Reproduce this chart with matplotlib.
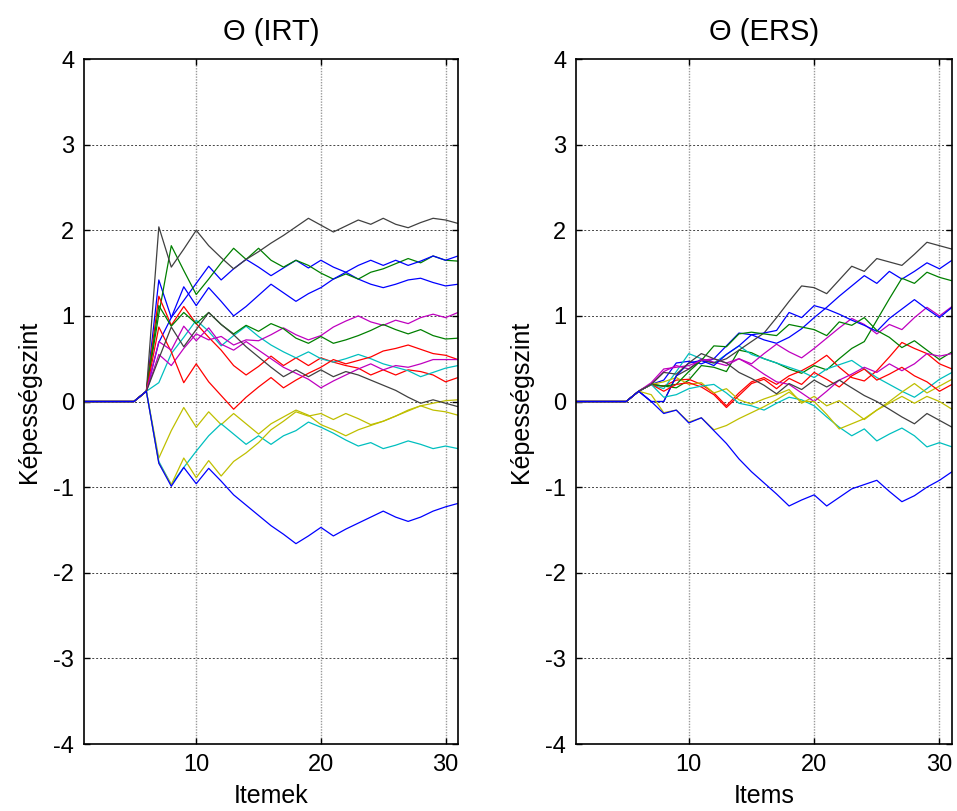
import numpy as np
import matplotlib
matplotlib.use("Agg")
import matplotlib.pyplot as plt

plt.rcParams["font.family"] = ["Liberation Sans", "DejaVu Sans"]
plt.rcParams["axes.unicode_minus"] = False

items = np.arange(1, 32)

# old MATLAB colour order: b g r c m y k
line_colors = [(0, 0, 1), (0, 0.5, 0), (1, 0, 0), (0, 0.75, 0.75),
               (0.75, 0, 0.75), (0.75, 0.75, 0), (0.25, 0.25, 0.25)]

# ---- Theta (IRT) estimates, one list per examinee ----
irt_blue1 = [0, 0, 0, 0, 0, 0.12, 1.42, 0.98, 1.18, 1.38, 1.58, 1.42, 1.55, 1.66, 1.57, 1.47, 1.56, 1.65, 1.56, 1.65, 1.57, 1.51, 1.43, 1.37, 1.33, 1.37, 1.42, 1.44, 1.39, 1.35, 1.37]
irt_green1 = [0, 0, 0, 0, 0, 0.12, 1.02, 1.82, 1.53, 1.25, 1.43, 1.62, 1.79, 1.66, 1.79, 1.65, 1.57, 1.65, 1.59, 1.5, 1.43, 1.49, 1.43, 1.51, 1.55, 1.61, 1.67, 1.62, 1.7, 1.65, 1.64]
irt_red1 = [0, 0, 0, 0, 0, 0.12, 1.23, 0.89, 1.11, 0.91, 0.75, 0.6, 0.42, 0.31, 0.41, 0.53, 0.42, 0.51, 0.42, 0.51, 0.46, 0.42, 0.39, 0.31, 0.37, 0.31, 0.37, 0.35, 0.31, 0.23, 0.28]
irt_cyan1 = [0, 0, 0, 0, 0, 0.12, 0.22, 0.56, 0.75, 0.95, 0.82, 0.65, 0.77, 0.88, 0.76, 0.66, 0.58, 0.51, 0.58, 0.5, 0.46, 0.5, 0.55, 0.5, 0.44, 0.4, 0.36, 0.29, 0.34, 0.39, 0.42]
irt_magenta1 = [0, 0, 0, 0, 0, 0.12, 0.55, 0.42, 0.62, 0.79, 0.72, 0.76, 0.66, 0.72, 0.71, 0.78, 0.86, 0.78, 0.72, 0.77, 0.87, 0.94, 1.0, 0.93, 0.89, 0.95, 0.91, 0.98, 1.02, 0.98, 1.04]
irt_yellow1 = [0, 0, 0, 0, 0, 0.12, -0.66, -0.34, -0.07, -0.3, -0.12, -0.27, -0.14, -0.26, -0.38, -0.26, -0.18, -0.1, -0.16, -0.27, -0.33, -0.4, -0.33, -0.28, -0.23, -0.17, -0.1, -0.05, -0.02, 0.01, 0.02]
irt_gray1 = [0, 0, 0, 0, 0, 0.12, 2.04, 1.57, 1.78, 2.0, 1.82, 1.68, 1.55, 1.66, 1.75, 1.85, 1.94, 2.04, 2.14, 2.06, 1.98, 2.05, 2.12, 2.07, 2.14, 2.07, 2.03, 2.09, 2.14, 2.12, 2.08]
irt_blue2 = [0, 0, 0, 0, 0, 0.12, 0.69, 0.98, 1.34, 1.12, 1.33, 1.17, 1.0, 1.11, 1.24, 1.37, 1.27, 1.17, 1.26, 1.33, 1.43, 1.51, 1.59, 1.65, 1.59, 1.65, 1.59, 1.64, 1.7, 1.65, 1.7]
irt_green2 = [0, 0, 0, 0, 0, 0.12, 1.12, 0.88, 1.04, 0.91, 1.04, 0.9, 0.79, 0.89, 0.82, 0.91, 0.85, 0.74, 0.68, 0.76, 0.68, 0.72, 0.77, 0.83, 0.9, 0.84, 0.79, 0.84, 0.77, 0.73, 0.74]
irt_red2 = [0, 0, 0, 0, 0, 0.12, 0.87, 0.58, 0.22, 0.44, 0.23, 0.07, -0.09, 0.05, 0.17, 0.28, 0.16, 0.25, 0.33, 0.4, 0.49, 0.44, 0.48, 0.52, 0.59, 0.62, 0.66, 0.61, 0.56, 0.54, 0.49]
irt_cyan2 = [0, 0, 0, 0, 0, 0.12, -0.7, -0.97, -0.77, -0.58, -0.4, -0.26, -0.38, -0.5, -0.4, -0.5, -0.4, -0.34, -0.24, -0.3, -0.37, -0.45, -0.52, -0.48, -0.55, -0.51, -0.46, -0.5, -0.55, -0.52, -0.55]
irt_magenta2 = [0, 0, 0, 0, 0, 0.12, 0.7, 0.6, 0.88, 0.71, 0.86, 0.67, 0.6, 0.7, 0.6, 0.5, 0.4, 0.33, 0.26, 0.16, 0.24, 0.31, 0.38, 0.44, 0.37, 0.42, 0.4, 0.44, 0.49, 0.49, 0.49]
irt_yellow2 = [0, 0, 0, 0, 0, 0.12, -0.72, -0.97, -0.66, -0.89, -0.69, -0.87, -0.7, -0.6, -0.48, -0.33, -0.23, -0.12, -0.17, -0.14, -0.21, -0.14, -0.2, -0.27, -0.23, -0.17, -0.11, -0.05, -0.1, -0.12, -0.16]
irt_gray2 = [0, 0, 0, 0, 0, 0.12, 0.5, 0.87, 0.64, 0.84, 1.04, 0.9, 0.78, 0.64, 0.52, 0.4, 0.29, 0.37, 0.29, 0.37, 0.29, 0.35, 0.31, 0.25, 0.19, 0.13, 0.05, -0.02, 0.02, -0.02, -0.06]
irt_blue3 = [0, 0, 0, 0, 0, 0.12, -0.72, -0.99, -0.77, -0.96, -0.78, -0.93, -1.09, -1.21, -1.33, -1.45, -1.55, -1.66, -1.57, -1.47, -1.57, -1.49, -1.42, -1.35, -1.28, -1.35, -1.4, -1.35, -1.28, -1.23, -1.19]

# ---- Theta (ERS) estimates ----
ers_blue1 = [0, 0, 0, 0, 0, 0.12, 0.2, 0.25, 0.45, 0.47, 0.44, 0.5, 0.65, 0.8, 0.78, 0.72, 0.68, 0.75, 0.85, 0.98, 1.1, 1.23, 1.35, 1.47, 1.38, 1.52, 1.43, 1.52, 1.62, 1.55, 1.65]
ers_green1 = [0, 0, 0, 0, 0, 0.12, 0.2, 0.18, 0.16, 0.25, 0.42, 0.4, 0.35, 0.6, 0.57, 0.5, 0.45, 0.38, 0.33, 0.42, 0.37, 0.5, 0.62, 0.7, 0.95, 1.2, 1.44, 1.38, 1.51, 1.45, 1.41]
ers_red1 = [0, 0, 0, 0, 0, 0.12, 0.2, 0.18, 0.25, 0.26, 0.2, 0.1, -0.05, 0.1, 0.23, 0.28, 0.2, 0.3, 0.36, 0.44, 0.54, 0.4, 0.28, 0.24, 0.36, 0.52, 0.69, 0.62, 0.56, 0.44, 0.38]
ers_cyan1 = [0, 0, 0, 0, 0, 0.12, 0.2, 0.15, 0.35, 0.56, 0.5, 0.45, 0.55, 0.65, 0.55, 0.5, 0.45, 0.4, 0.35, 0.28, 0.38, 0.43, 0.48, 0.38, 0.28, 0.2, 0.12, 0.05, 0.15, 0.26, 0.34]
ers_magenta1 = [0, 0, 0, 0, 0, 0.12, 0.2, 0.35, 0.42, 0.38, 0.5, 0.46, 0.42, 0.5, 0.44, 0.56, 0.67, 0.58, 0.51, 0.62, 0.74, 0.86, 0.97, 0.9, 0.79, 0.9, 0.84, 0.98, 1.1, 1.0, 1.11]
ers_yellow1 = [0, 0, 0, 0, 0, 0.12, 0.2, 0.23, 0.28, 0.2, 0.22, 0.1, 0.15, 0.02, -0.03, 0.03, 0.08, 0.14, -0.02, 0.06, -0.05, 0.01, -0.1, -0.21, -0.1, 0.0, 0.11, 0.21, 0.1, 0.18, 0.26]
ers_gray1 = [0, 0, 0, 0, 0, 0.12, 0.0, 0.0, 0.3, 0.38, 0.48, 0.45, 0.5, 0.6, 0.7, 0.8, 0.98, 1.17, 1.35, 1.33, 1.26, 1.42, 1.58, 1.52, 1.67, 1.63, 1.59, 1.72, 1.86, 1.82, 1.78]
ers_blue2 = [0, 0, 0, 0, 0, 0.12, 0.0, 0.0, 0.3, 0.45, 0.48, 0.42, 0.55, 0.65, 0.78, 0.8, 0.83, 1.04, 0.98, 1.12, 1.08, 1.02, 0.95, 0.89, 0.82, 0.97, 1.08, 1.19, 1.08, 0.98, 1.1]
ers_green2 = [0, 0, 0, 0, 0, 0.12, 0.2, 0.18, 0.2, 0.35, 0.48, 0.65, 0.64, 0.79, 0.81, 0.79, 0.77, 0.9, 0.87, 0.84, 0.77, 0.93, 0.89, 0.98, 0.83, 0.75, 0.63, 0.71, 0.6, 0.49, 0.58]
ers_red2 = [0, 0, 0, 0, 0, 0.12, 0.2, 0.12, 0.2, 0.22, 0.17, 0.08, -0.07, 0.07, 0.21, 0.26, 0.15, 0.27, 0.2, 0.34, 0.26, 0.17, 0.3, 0.38, 0.25, 0.32, 0.4, 0.3, 0.23, 0.12, 0.2]
ers_cyan2 = [0, 0, 0, 0, 0, 0.12, 0.2, 0.05, 0.08, 0.15, 0.18, 0.2, 0.1, -0.02, -0.05, -0.1, -0.02, 0.05, 0.02, -0.05, -0.18, -0.3, -0.4, -0.32, -0.46, -0.38, -0.31, -0.4, -0.53, -0.48, -0.53]
ers_magenta2 = [0, 0, 0, 0, 0, 0.12, 0.22, 0.38, 0.4, 0.42, 0.48, 0.5, 0.45, 0.5, 0.42, 0.32, 0.23, 0.2, 0.1, 0.0, 0.12, 0.25, 0.32, 0.4, 0.34, 0.44, 0.36, 0.44, 0.56, 0.53, 0.56]
ers_yellow2 = [0, 0, 0, 0, 0, 0.12, 0.08, -0.13, -0.1, -0.24, -0.19, -0.33, -0.28, -0.2, -0.13, -0.06, 0.02, 0.11, 0.0, 0.0, -0.15, -0.32, -0.26, -0.2, -0.1, -0.02, 0.06, -0.02, 0.06, 0.0, -0.09]
ers_gray2 = [0, 0, 0, 0, 0, 0.12, 0.2, 0.34, 0.32, 0.45, 0.56, 0.5, 0.45, 0.34, 0.27, 0.19, 0.09, 0.21, 0.14, 0.25, 0.17, 0.25, 0.16, 0.07, 0.0, -0.09, -0.18, -0.26, -0.14, -0.22, -0.3]
ers_blue3 = [0, 0, 0, 0, 0, 0.12, 0.0, -0.14, -0.1, -0.25, -0.19, -0.34, -0.49, -0.67, -0.82, -0.95, -1.08, -1.22, -1.15, -1.09, -1.22, -1.12, -1.02, -0.97, -0.92, -1.05, -1.17, -1.1, -1.0, -0.92, -0.82]

irt_series = [irt_blue1, irt_green1, irt_red1, irt_cyan1, irt_magenta1, irt_yellow1, irt_gray1,
              irt_blue2, irt_green2, irt_red2, irt_cyan2, irt_magenta2, irt_yellow2, irt_gray2, irt_blue3]
ers_series = [ers_blue1, ers_green1, ers_red1, ers_cyan1, ers_magenta1, ers_yellow1, ers_gray1,
              ers_blue2, ers_green2, ers_red2, ers_cyan2, ers_magenta2, ers_yellow2, ers_gray2, ers_blue3]


def draw_panel(ax, series, title, xlabel):
    for i, values in enumerate(series):
        ax.plot(items, values, color=line_colors[i % len(line_colors)], linewidth=0.9)
    ax.set_xlim(1, 31)
    ax.set_ylim(-4, 4)
    ax.set_xticks([10, 20, 30])
    ax.set_yticks(range(-4, 5))
    for yv in range(-3, 4):
        ax.axhline(yv, color="#444444", linestyle=(0, (2, 2)), linewidth=0.7, zorder=0)
    for xv in [10, 20, 30]:
        ax.axvline(xv, color="#9a9a9a", linestyle=(0, (1, 1)), linewidth=1.0, zorder=0)
    ax.tick_params(direction="in", length=4, width=1, top=True, right=True,
                   labelsize=17, pad=7)
    for spine in ax.spines.values():
        spine.set_linewidth(1.2)
    ax.set_title(title, fontsize=21, pad=14)
    ax.set_xlabel(xlabel, fontsize=18, labelpad=6)
    ax.set_ylabel("Képességszint", fontsize=18, labelpad=9)


fig = plt.figure(figsize=(9.57, 8.11), dpi=100)
ax_irt = fig.add_axes([0.0878, 0.0826, 0.3908, 0.8446])
ax_ers = fig.add_axes([0.6019, 0.0826, 0.3929, 0.8446])

draw_panel(ax_irt, irt_series, "Θ (IRT)", "Itemek")
draw_panel(ax_ers, ers_series, "Θ (ERS)", "Items")

fig.savefig("out.png", dpi=100)
